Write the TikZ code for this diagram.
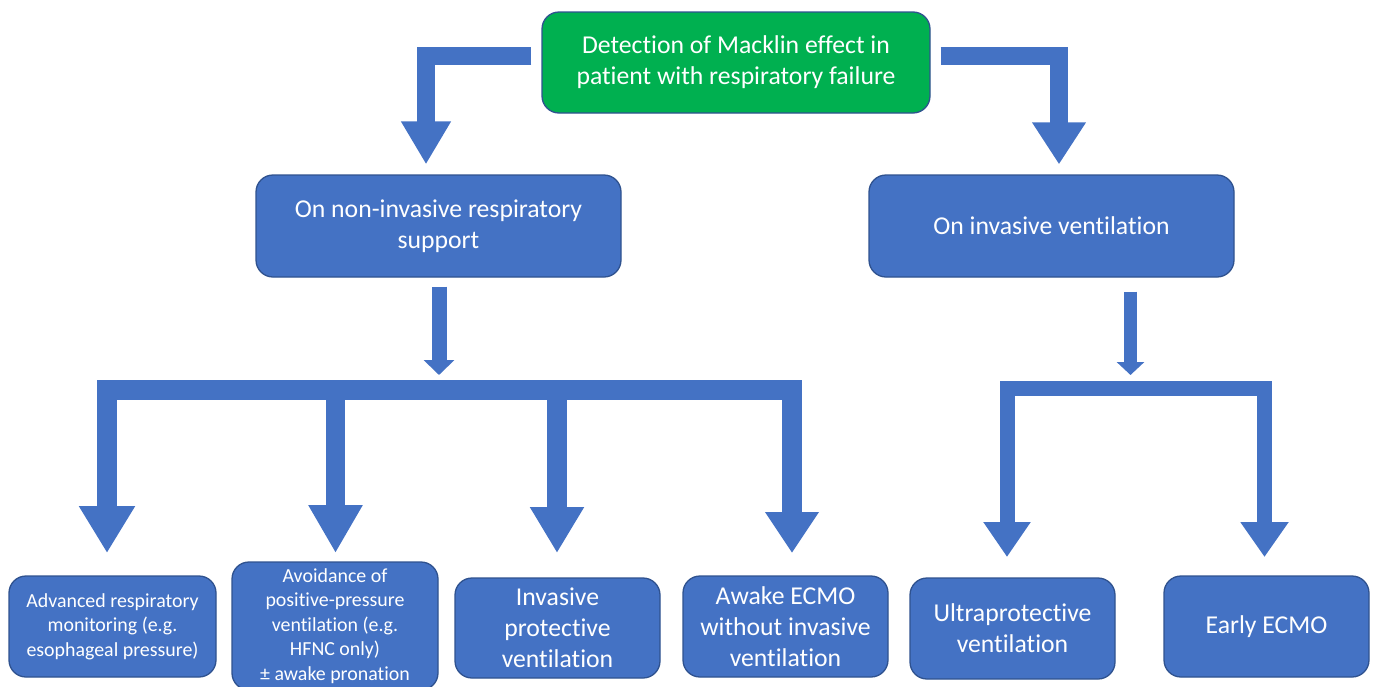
\documentclass[tikz,border=0pt]{standalone}
\usepackage{fontspec}
\setmainfont{Carlito}[Ligatures={NoCommon,NoRequired,NoContextual}]
\usetikzlibrary{arrows.meta}
\definecolor{boxblue}{HTML}{4472C4}
\definecolor{arrblue}{HTML}{4472C4}
\definecolor{bordc}{HTML}{2F528F}
\definecolor{topgreen}{HTML}{00B050}
\tikzset{
  box/.style={draw=bordc, fill=boxblue, rounded corners=17pt, line width=1.3pt,
    text=white, align=center, inner sep=0pt, font=\fontsize{25.7}{30.8}\selectfont},
  smallbox/.style={box, font=\fontsize{19.9}{24.4}\selectfont},
  flow/.style={draw=arrblue, line width=#1, line join=miter, line cap=butt},
}
\begin{document}
\begin{tikzpicture}[x=1pt, y=-1pt]
\useasboundingbox (0,0) rectangle (1373,686);
\clip (0,0) rectangle (1373,686);

% nodes
\node[box, fill=topgreen, minimum width=388pt, minimum height=101pt] (top) at (736,62.5)
  {Detection of Macklin effect in\\patient with respiratory failure};
\node[box, minimum width=365pt, minimum height=102pt] (noninv) at (438.5,226)
  {On non-invasive respiratory\\support};
\node[box, minimum width=365pt, minimum height=102pt] (inv) at (1051.5,226)
  {On invasive ventilation};
\node[smallbox, minimum width=207pt, minimum height=101pt] (b1) at (112.5,626.5)
  {Advanced respiratory\\monitoring (e.g.\\esophageal pressure)};
\node[smallbox, minimum width=206pt, minimum height=128pt] (b2) at (335,626)
  {Avoidance of\\positive-pressure\\ventilation (e.g.\\HFNC only)\\± awake pronation};
\node[box, minimum width=205pt, minimum height=100pt] (b3) at (557.5,628)
  {Invasive\\protective\\ventilation};
\node[box, minimum width=205pt, minimum height=101pt] (b4) at (785.5,626.5)
  {Awake ECMO\\without invasive\\ventilation};
\node[box, minimum width=205pt, minimum height=101pt] (b5) at (1012.5,628.5)
  {Ultraprotective\\ventilation};
\node[box, minimum width=205pt, minimum height=101pt] (b6) at (1266.5,626.5)
  {Early ECMO};

% junction / tip coordinates
\coordinate (jL) at (439,375);
\coordinate (t1) at (107,553);
\coordinate (c2) at (335.5,390);
\coordinate (t2) at (335.5,553);
\coordinate (c3) at (557,390);
\coordinate (t3) at (557,553);
\coordinate (barL) at (792,390);
\coordinate (t4) at (792,553);
\coordinate (jR) at (1130.5,375);
\coordinate (t5) at (1007,557);
\coordinate (barR) at (1264.5,388);
\coordinate (t6) at (1264.5,557);

% top elbow arrows
\draw[flow=18pt, -{Triangle[width=47pt,length=43pt]}]
  ([xshift=-10pt,yshift=7pt]top.west) -| ([xshift=-12.5pt,yshift=10pt]noninv.north);
\draw[flow=18pt, -{Triangle[width=51pt,length=42pt]}]
  ([xshift=10pt,yshift=7pt]top.east) -| ([xshift=7.5pt,yshift=10pt]inv.north);

% left distribution
\draw[flow=15pt, -{Triangle[width=30pt,length=15pt]}]
  ([xshift=0.5pt,yshift=-9pt]noninv.south) -- (jL);
\draw[flow=20pt, {Triangle[width=53pt,length=47pt]}-{Triangle[width=51pt,length=41pt]}]
  (t1) |- (barL) -- (t4);
\draw[flow=19pt, -{Triangle[width=51pt,length=48pt]}] (c2) -- (t2);
\draw[flow=20pt, -{Triangle[width=51pt,length=46pt]}] (c3) -- (t3);

% right distribution
\draw[flow=13pt, -{Triangle[width=27pt,length=13pt]}]
  ([xshift=79pt,yshift=-14pt]inv.south) -- (jR);
\draw[flow=15pt, {Triangle[width=45pt,length=35pt]}-{Triangle[width=46pt,length=35pt]}]
  (t5) |- (barR) -- (t6);
\end{tikzpicture}
\end{document}
